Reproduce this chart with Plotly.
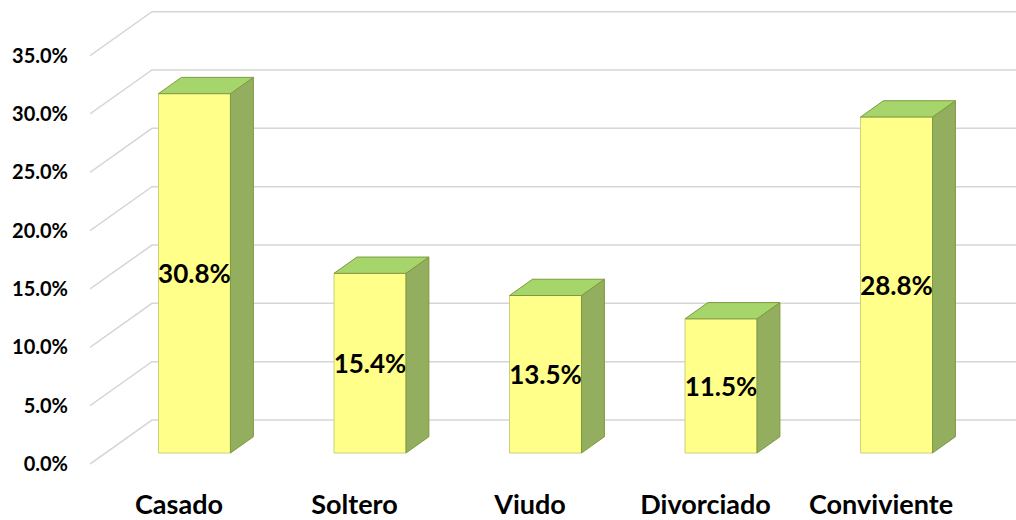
import plotly.graph_objects as go

categories = ['Casado', 'Soltero', 'Viudo', 'Divorciado', 'Conviviente']
values = [0.308, 0.154, 0.135, 0.115, 0.288]
tick_values = [0.0, 0.05, 0.10, 0.15, 0.20, 0.25, 0.30, 0.35]

# pseudo-3D geometry (in data units)
X_MIN, X_MAX = -0.507, 4.769
Y_MIN, Y_MAX = -0.0137, 0.3977
DX, DY = 0.353, 0.0377      # shift for full depth (front -> back wall)
D_FRONT, D_BACK = 0.25, 0.62  # bar depth inside the box
HALF_W = 0.205

FRONT = '#FFFF8A'
SIDE = '#93AE5E'
TOP = '#A5D56B'
EDGE = '#7E9A3E'
GRID = '#D6D6D6'
FONT = 'Lato, Open Sans, sans-serif'


def proj(x, v, d):
    return x + d * DX, v + d * DY


fig = go.Figure()

# back wall + left wall gridlines
shapes = []
for v in tick_values:
    x0, y0 = proj(X_MIN, v, 0)
    x1, y1 = proj(X_MIN, v, 1)
    shapes.append(dict(
        type='path', xref='x', yref='y', layer='below',
        path=f'M {x0},{y0} L {x1},{y1} L {X_MAX},{y1}',
        line=dict(color=GRID, width=1.5)
    ))

# side and top faces
for i, v in enumerate(values):
    xr = i + HALF_W
    xl = i - HALF_W
    side = [proj(xr, 0, D_FRONT), proj(xr, 0, D_BACK), proj(xr, v, D_BACK), proj(xr, v, D_FRONT)]
    top = [proj(xl, v, D_FRONT), proj(xr, v, D_FRONT), proj(xr, v, D_BACK), proj(xl, v, D_BACK)]
    for pts, col in ((side, SIDE), (top, TOP)):
        fig.add_trace(go.Scatter(
            x=[p[0] for p in pts] + [pts[0][0]],
            y=[p[1] for p in pts] + [pts[0][1]],
            mode='lines', fill='toself', fillcolor=col,
            line=dict(color=EDGE, width=1),
            hoverinfo='skip', showlegend=False
        ))

# front faces
fig.add_trace(go.Bar(
    x=[i + D_FRONT * DX for i in range(len(values))],
    y=values,
    base=D_FRONT * DY,
    width=2 * HALF_W,
    marker=dict(color=FRONT, line=dict(color='#C9D27A', width=1)),
    text=[f'<b>{v * 100:.1f}%</b>' for v in values],
    textposition='inside',
    insidetextanchor='middle',
    textangle=0,
    constraintext='none',
    textfont=dict(family=FONT, size=26, color='black'),
    showlegend=False,
    hoverinfo='skip'
))

fig.update_layout(
    width=1016, height=520,
    margin=dict(l=90, r=0, t=0, b=40),
    plot_bgcolor='white', paper_bgcolor='white',
    shapes=shapes,
    showlegend=False,
    xaxis=dict(
        range=[X_MIN, X_MAX],
        tickvals=list(range(len(categories))),
        ticktext=[f'<b>{c}</b>' for c in categories],
        tickfont=dict(family=FONT, size=27, color='black'),
        showgrid=False, zeroline=False, showline=False,
        ticks='', ticklabelstandoff=6, automargin=False
    ),
    yaxis=dict(
        range=[Y_MIN, Y_MAX],
        tickvals=tick_values,
        tickformat='.1%',
        tickfont=dict(family=FONT, size=20, color='black', weight='bold'),
        showgrid=False, zeroline=False, showline=False,
        ticks='', ticklabelstandoff=21, automargin=False
    ),
)

# drop the browser's default body margin so the figure fills the window
fig.write_html('out.html', config={'displayModeBar': False},
               post_script="document.body.style.margin='0px';")
